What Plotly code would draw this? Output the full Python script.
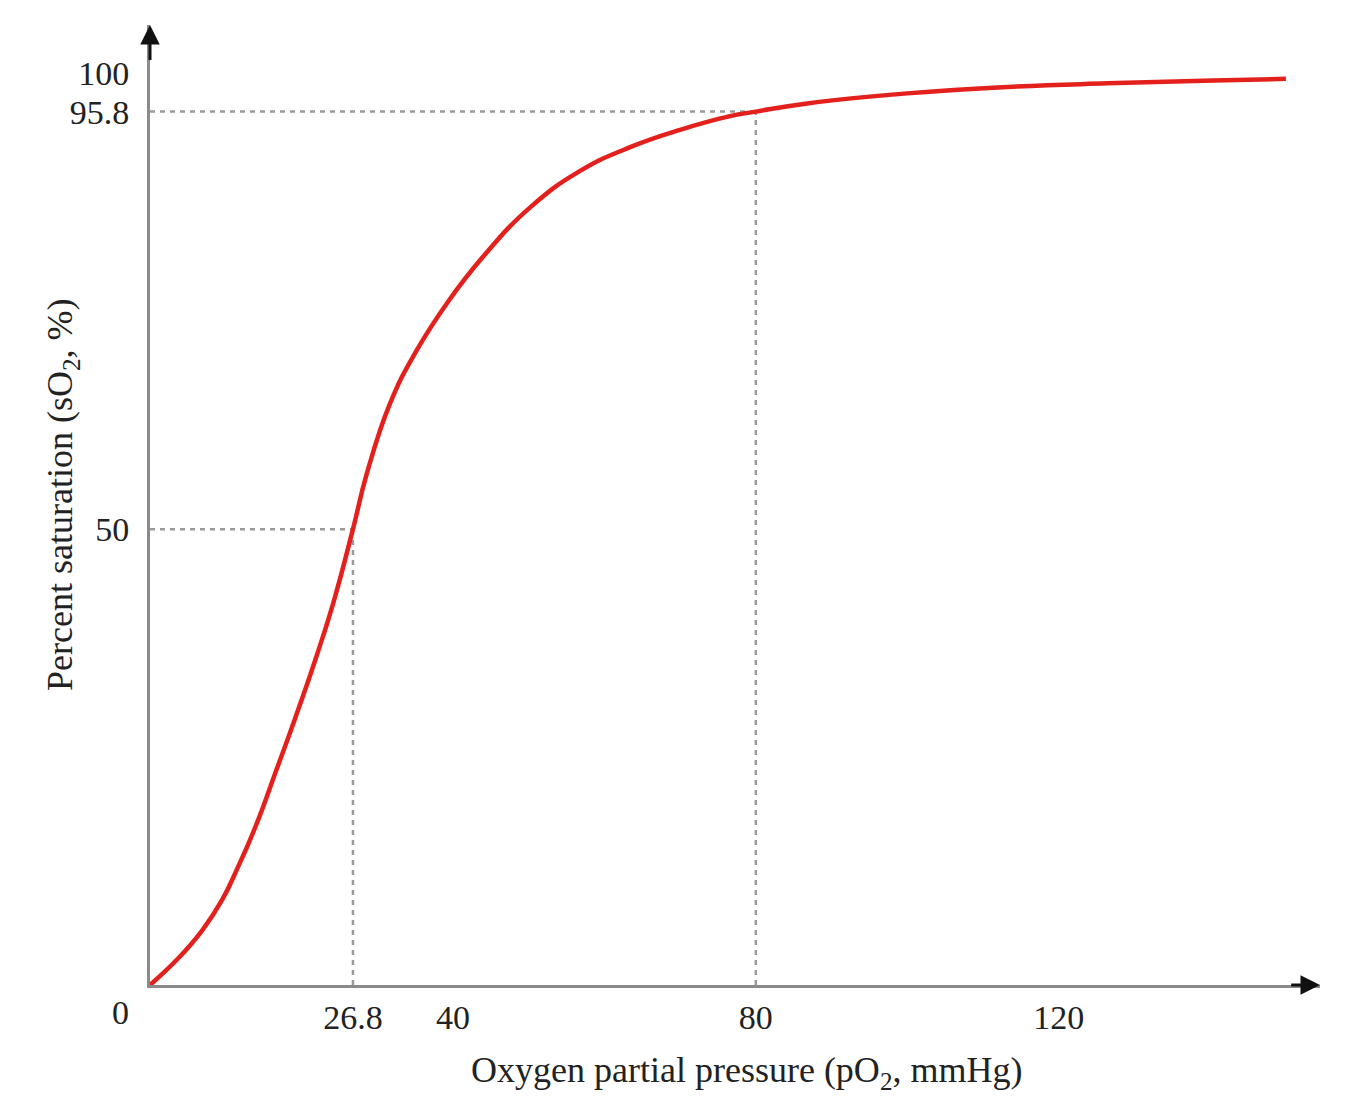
import plotly.graph_objects as go

# Oxygen–haemoglobin dissociation curve
po2 = [0, 3.7, 6.9, 9.5, 11.6, 13.9, 16.7, 19.1, 21.8, 24.2, 26.8, 28.6, 31.7,
       35.0, 39.4, 44.0, 50.2, 56.8, 63.4, 70.0, 76.6, 80.0, 86.8, 100.0,
       113.2, 126.4, 140.4, 150.0]
so2 = [0, 2.9, 6.0, 9.3, 12.9, 17.3, 23.6, 29.1, 35.6, 41.9, 50.0, 56.0, 63.8,
       69.3, 75.0, 79.9, 85.3, 89.3, 91.9, 93.8, 95.3, 95.8, 96.7, 97.8,
       98.5, 98.9, 99.2, 99.4]

# reference points (P50 and arterial point)
ref_x = [26.8, 80]
ref_y = [50, 95.8]

x_tickvals = [26.8, 40, 80, 120]
x_ticktext = ["26.8", "40", "80", "120"]
y_tickvals = [50, 95.8, 100]
y_ticktext = ["50", "95.8", "100"]

X_MAX = 154.5
Y_MAX = 105.3

GRID = "#9a9a9a"
AXIS = "#8a8a8a"
RED = "#e3201c"
TXT = "#222222"
FONT = "Liberation Serif"

fig = go.Figure()

# dotted guide lines
for rx, ry in zip(ref_x, ref_y):
    fig.add_trace(go.Scatter(x=[0, rx], y=[ry, ry], mode="lines",
                             line=dict(color=GRID, width=2.5, dash="5px,5px"),
                             hoverinfo="skip", showlegend=False))
    fig.add_trace(go.Scatter(x=[rx, rx], y=[0, ry], mode="lines",
                             line=dict(color=GRID, width=2.5, dash="5px,5px"),
                             hoverinfo="skip", showlegend=False))

# curve
fig.add_trace(go.Scatter(x=po2, y=so2, mode="lines",
                         line=dict(color=RED, width=4.5, shape="spline", smoothing=1.3),
                         showlegend=False))

# axis arrows
fig.add_annotation(x=X_MAX, y=0, ax=X_MAX - 4, ay=0, xref="x", yref="y",
                   axref="x", ayref="y", showarrow=True, arrowhead=2,
                   arrowsize=1.3, arrowwidth=3, arrowcolor="#111111", text="")
fig.add_annotation(x=0, y=Y_MAX, ax=0, ay=Y_MAX - 4, xref="x", yref="y",
                   axref="x", ayref="y", showarrow=True, arrowhead=2,
                   arrowsize=1.3, arrowwidth=3, arrowcolor="#111111", text="")

# shared origin label
fig.add_annotation(x=0, y=0, xref="x", yref="y", text="0", showarrow=False,
                   xshift=-30, yshift=-27,
                   font=dict(family=FONT, size=34, color=TXT))

# axis titles
fig.add_annotation(x=0.5, y=0, xref="paper", yref="paper",
                   text="Oxygen partial pressure (pO<sub>2</sub>, mmHg)",
                   showarrow=False, xanchor="center", yanchor="middle",
                   xshift=11, yshift=-87,
                   font=dict(family=FONT, size=36, color=TXT))
fig.add_annotation(x=0, y=0.5, xref="paper", yref="paper",
                   text="Percent saturation (sO<sub>2</sub>, %)",
                   showarrow=False, xanchor="center", yanchor="middle",
                   textangle=-90, xshift=-88, yshift=10,
                   font=dict(family=FONT, size=36, color=TXT))

fig.update_layout(
    width=1337, height=1088,
    margin=dict(l=142, r=25, t=17, b=111),
    paper_bgcolor="white", plot_bgcolor="white",
    font=dict(family=FONT, size=34, color=TXT),
    showlegend=False,
    xaxis=dict(range=[0, X_MAX], showgrid=False, zeroline=False,
               showline=True, linecolor=AXIS, linewidth=3,
               tickvals=x_tickvals, ticktext=x_ticktext, ticks="",
               ticklabelstandoff=0),
    yaxis=dict(range=[0, Y_MAX], showgrid=False, zeroline=False,
               showline=True, linecolor=AXIS, linewidth=3,
               tickvals=y_tickvals, ticktext=y_ticktext, ticks="",
               ticklabelstandoff=11),
)

fig.write_html("out.html")
